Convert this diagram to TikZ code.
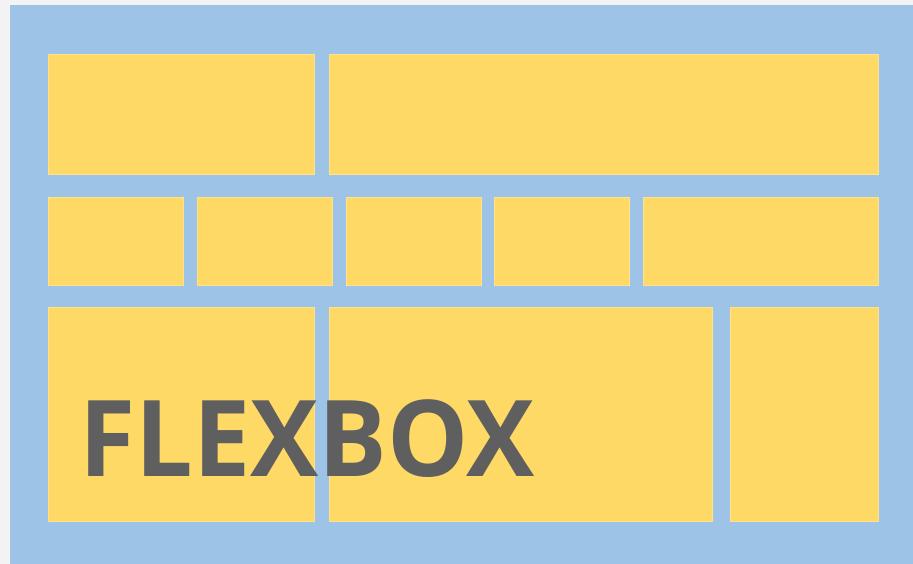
\documentclass[tikz,border=0pt]{standalone}
\usepackage{fontspec}
\setmainfont{Open Sans}
\usetikzlibrary{positioning}
\definecolor{sky}{HTML}{9DC3E6}
\definecolor{sun}{HTML}{FFD966}
\definecolor{sunedge}{HTML}{FFE28A}
\definecolor{ink}{HTML}{5F5F5F}
\definecolor{paper}{HTML}{F3F3F3}
\begin{document}
\begin{tikzpicture}[
  x=1pt, y=-1pt,
  cell/.style={fill=sun, draw=sunedge, line width=1pt, anchor=north west, inner sep=0pt},
  title/.style={font=\bfseries\fontsize{106}{106}\selectfont, text=ink, anchor=base west, inner sep=0pt}
]
\useasboundingbox (0,0) rectangle (913,564);
\fill[paper] (0,0) rectangle (913,564);
\fill[sky] (10,5) rectangle (913,564);
% top row
\node[cell, minimum width=266pt, minimum height=120pt] (head) at (48,54) {};
\node[cell, minimum width=549pt, minimum height=120pt] (banner) at (329,54) {};
% middle row
\node[cell, minimum width=135pt, minimum height=88pt] (m1) at (48,197) {};
\node[cell, minimum width=135pt, minimum height=88pt] (m2) at (197,197) {};
\node[cell, minimum width=135pt, minimum height=88pt] (m3) at (346,197) {};
\node[cell, minimum width=135pt, minimum height=88pt] (m4) at (494,197) {};
\node[cell, minimum width=235pt, minimum height=88pt] (m5) at (643,197) {};
% bottom row
\node[cell, minimum width=266pt, minimum height=214pt] (side) at (48,307) {};
\node[cell, minimum width=383pt, minimum height=214pt] (main) at (329,307) {};
\node[cell, minimum width=148pt, minimum height=214pt] (aside) at (730,307) {};
\node[title] (word) at (79.5,476) {\scalebox{0.964}[1]{FLEXBOX}};
\end{tikzpicture}
\end{document}
